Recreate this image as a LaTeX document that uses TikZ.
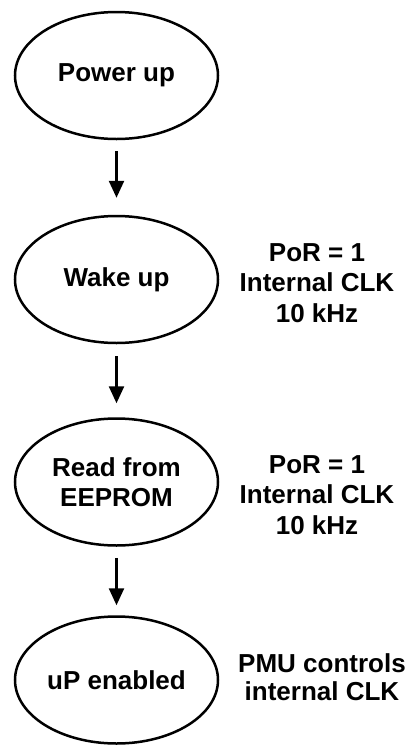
\documentclass[tikz,border=0pt]{standalone}
\usepackage{fontspec}
\setmainfont{Liberation Sans}
\usetikzlibrary{shapes.geometric,arrows.meta}
\begin{document}
\begin{tikzpicture}[x=1pt,y=-1pt,
  state/.style={draw,ellipse,line width=2.5pt,minimum width=203pt,minimum height=127pt,inner sep=0pt,align=center,font=\bfseries\fontsize{26}{30}\selectfont},
  note/.style={align=center,inner sep=0pt,font=\bfseries\fontsize{26}{30.5}\selectfont},
  flow/.style={line width=2.5pt,-{Triangle[length=17pt,width=15pt]}}]
\useasboundingbox (0,0) rectangle (409,745);
\node[state] (s1) at (116.5,75.5) {Power up};
\node[state] (s2) at (116.5,279.5) {Wake up};
\node[state] (s3) at (116.5,482) {Read from\\EEPROM};
\node[state] (s4) at (116.5,680) {uP enabled};
\node[note] (n2) at (317,283) {PoR = 1\\Internal CLK\\10 kHz};
\node[note] (n3) at (317,495) {PoR = 1\\Internal CLK\\10 kHz};
\node[note,font=\bfseries\fontsize{26}{28}\selectfont] (n4) at (322,677) {PMU controls\\internal CLK};
\draw[flow,shorten <=11pt,shorten >=17pt] (s1.south) -- (s2.north);
\draw[flow,shorten <=12pt,shorten >=14pt] (s2.south) -- (s3.north);
\draw[flow,shorten <=11pt,shorten >=10pt] (s3.south) -- (s4.north);
\end{tikzpicture}
\end{document}
